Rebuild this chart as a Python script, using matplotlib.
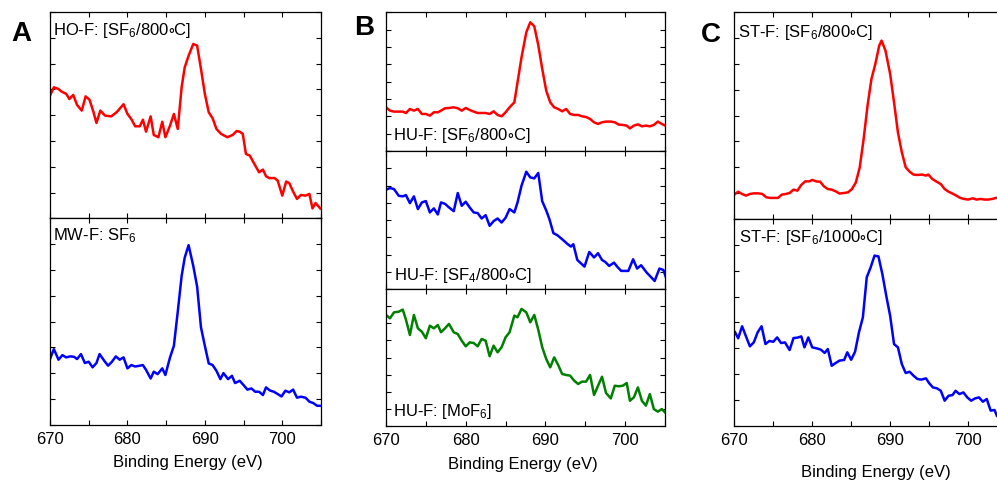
import matplotlib
matplotlib.use("Agg")
import matplotlib.pyplot as plt
from matplotlib.ticker import MultipleLocator

plt.rcParams['font.family'] = ['Liberation Sans', 'DejaVu Sans']
plt.rcParams['mathtext.default'] = 'regular'

# ---------------- data (binding energy in eV, intensity in a.u.) ----------------
a_top_x = [670.0, 670.5, 671.1, 671.5, 672.1, 672.5, 673.0, 673.5, 674.1, 674.6,
           675.1, 675.6, 676.0, 676.5, 677.1, 677.9, 678.6, 679.5, 680.0, 680.5,
           681.0, 681.6, 682.0, 682.4, 683.0, 683.4, 684.0, 684.5, 684.9, 685.5,
           686.0, 686.5, 687.0, 687.4, 687.9, 688.5, 689.0, 689.5, 690.0, 690.5,
           691.0, 691.5, 692.1, 692.9, 693.6, 694.1, 694.5, 694.9, 695.3, 695.8,
           696.4, 697.0, 697.5, 697.9, 698.3, 699.0, 699.4, 700.0, 700.5, 700.9,
           701.4, 701.9, 702.4, 703.0, 703.5, 703.9, 704.3, 704.9]
a_top_y = [59.5, 63.5, 62.7, 61.4, 60.3, 57.8, 59.8, 54.9, 52.2, 59.1,
           57.5, 51.7, 46.2, 52.2, 49.8, 49.4, 51.4, 55.3, 50.6, 48.1,
           44.6, 44.6, 47.8, 42.0, 49.4, 40.4, 39.3, 46.8, 39.3, 44.9,
           50.6, 43.3, 63.5, 73.2, 78.8, 84.5, 83.7, 72.4, 60.3, 51.4,
           48.5, 43.3, 40.9, 39.3, 40.4, 42.3, 42.0, 40.9, 31.2, 30.4,
           26.3, 22.3, 23.6, 20.4, 19.5, 19.5, 18.3, 11.0, 17.8, 17.1,
           12.9, 9.4, 11.3, 11.0, 11.8, 4.8, 7.4, 4.8]

a_bot_x = [670.0, 670.5, 671.1, 671.6, 672.1, 672.6, 673.1, 673.5, 674.0, 674.5,
           675.0, 675.5, 676.0, 676.4, 677.0, 677.5, 678.0, 678.5, 679.0, 679.5,
           680.0, 680.5, 681.0, 681.6, 682.0, 682.4, 683.0, 683.4, 683.9, 684.5,
           684.9, 685.5, 686.0, 686.5, 687.0, 687.4, 687.9, 688.5, 689.0, 689.5,
           690.0, 690.5, 691.0, 691.5, 692.0, 692.4, 693.0, 693.5, 693.9, 694.5,
           695.0, 695.5, 696.0, 696.5, 697.0, 697.5, 697.9, 698.4, 698.9, 699.4,
           699.9, 700.4, 700.9, 701.4, 701.9, 702.4, 703.0, 703.5, 704.0, 704.5,
           704.9]
a_bot_y = [31.9, 36.7, 31.6, 33.8, 32.7, 33.2, 33.0, 31.9, 34.3, 30.0,
           30.6, 27.9, 30.0, 34.3, 31.1, 28.7, 30.6, 33.2, 31.6, 32.7,
           27.4, 29.0, 28.3, 28.7, 29.0, 26.7, 22.5, 25.8, 24.6, 27.4,
           24.2, 32.7, 38.3, 54.8, 72.1, 81.0, 87.0, 77.0, 67.0, 47.2,
           38.3, 29.8, 29.0, 26.2, 22.2, 25.1, 22.2, 23.8, 20.3, 21.4,
           19.3, 17.1, 17.7, 16.1, 16.1, 14.5, 18.2, 16.7, 16.1, 15.0,
           13.8, 16.6, 15.8, 17.1, 13.2, 13.7, 13.2, 11.3, 10.6, 9.3,
           9.3]

b_x = [670.0, 670.5, 671.0, 671.6, 672.1, 672.5, 673.0, 673.5, 674.0, 674.5,
       675.0, 675.5, 676.0, 676.5, 676.9, 677.4, 677.9, 678.5, 679.0, 679.5,
       680.0, 680.5, 681.0, 681.5, 682.0, 682.5, 683.0, 683.5, 684.0, 684.5,
       685.0, 685.5, 686.1, 686.5, 687.0, 687.6, 688.1, 688.6, 689.1, 689.6,
       690.1, 690.6, 691.1, 691.6, 692.1, 692.6, 693.1, 693.6, 694.1, 694.6,
       695.1, 695.6, 696.1, 696.6, 697.1, 697.6, 698.2, 698.7, 699.2, 699.7,
       700.2, 700.6, 701.1, 701.6, 702.1, 702.6, 703.1, 703.6, 704.1, 704.6,
       705.2]
b_top_y = [31.5, 29.1, 28.4, 28.4, 28.4, 27.4, 30.3, 29.1, 30.3, 26.7,
           26.7, 25.5, 27.9, 27.9, 29.1, 30.8, 31.0, 31.5, 30.8, 29.1,
           31.0, 29.6, 28.4, 27.4, 27.4, 27.4, 26.7, 28.6, 26.0, 25.0,
           27.9, 31.5, 35.1, 49.5, 67.5, 85.6, 92.8, 89.9, 76.4, 59.1,
           43.5, 35.1, 31.5, 30.3, 28.6, 30.3, 26.7, 26.0, 26.0, 25.0,
           24.5, 23.1, 20.7, 19.5, 20.7, 21.2, 21.2, 20.7, 19.0, 18.8,
           18.3, 16.3, 18.3, 19.2, 17.8, 18.3, 17.8, 18.8, 21.2, 19.5,
           17.8]

b_mid_x = [670.0, 670.5, 671.0, 671.6, 672.1, 672.5, 673.0, 673.5, 674.0, 674.5,
           675.0, 675.5, 676.0, 676.5, 676.9, 677.4, 677.9, 678.5, 679.0, 679.5,
           680.0, 680.5, 681.0, 681.5, 682.0, 682.5, 683.0, 683.5, 684.0, 684.5,
           685.0, 685.5, 686.1, 686.5, 687.0, 687.6, 688.1, 688.6, 689.1, 689.6,
           690.1, 690.5, 691.0, 691.5, 692.2, 692.8, 693.2, 693.5, 694.0, 694.9,
           695.5, 696.1, 696.6, 697.1, 697.5, 698.0, 698.6, 699.0, 699.5, 700.4,
           701.0, 701.5, 702.0, 702.7, 703.3, 703.7, 704.3, 704.8, 705.2]
b_mid_y = [72.0, 73.2, 72.5, 67.6, 67.2, 68.1, 62.3, 67.2, 58.0, 62.8,
           63.8, 55.6, 58.5, 54.1, 62.8, 61.8, 59.2, 56.5, 69.6, 60.4,
           63.3, 59.2, 55.6, 55.1, 51.2, 53.6, 45.9, 49.3, 51.2, 48.3,
           51.7, 58.0, 55.6, 62.8, 74.9, 85.0, 80.9, 80.2, 84.1, 63.6,
           57.0, 50.7, 40.6, 39.1, 35.7, 32.6, 30.9, 32.6, 21.2, 16.4,
           27.0, 23.0, 26.1, 21.2, 19.8, 16.9, 19.3, 16.4, 13.3, 13.3,
           21.7, 15.0, 17.4, 12.1, 8.5, 6.0, 15.0, 14.0, 7.2]

b_bot_y = [81.2, 78.7, 83.1, 83.6, 85.1, 77.8, 66.5, 81.2, 71.4, 68.9,
           64.1, 73.3, 71.4, 73.8, 68.5, 71.4, 74.6, 68.5, 67.2, 62.3,
           58.2, 61.1, 60.6, 58.2, 63.6, 62.3, 50.9, 58.7, 53.8, 57.5,
           64.8, 68.5, 80.7, 79.5, 85.6, 83.1, 75.8, 81.2, 70.4, 57.5,
           48.9, 42.8, 50.1, 44.5, 37.9, 37.2, 36.7, 33.0, 30.6, 32.3,
           32.3, 37.2, 22.5, 29.3, 35.9, 24.0, 20.0, 29.3, 28.9, 29.3,
           31.3, 18.3, 20.8, 28.1, 18.3, 14.7, 23.2, 12.2, 10.3, 12.2,
           8.6]

c_top_x = [670.1, 670.5, 671.0, 671.5, 672.0, 672.5, 673.1, 673.6, 674.1, 674.6,
           675.1, 675.6, 676.1, 676.6, 677.1, 677.6, 678.1, 678.6, 679.1, 679.6,
           680.0, 680.6, 681.0, 681.5, 682.0, 682.5, 683.0, 683.5, 684.1, 684.6,
           685.1, 685.6, 686.1, 686.6, 687.1, 687.6, 688.1, 688.6, 688.9, 689.4,
           690.0, 690.5, 691.0, 691.5, 692.0, 692.5, 693.0, 693.5, 694.1, 694.6,
           694.9, 695.4, 695.9, 696.5, 697.0, 697.5, 698.0, 698.5, 699.0, 699.5,
           700.0, 700.6, 701.1, 701.6, 702.1, 702.6, 703.1, 703.7]
c_top_y = [12.1, 13.2, 12.1, 11.3, 12.1, 12.4, 12.4, 12.1, 10.5, 10.2,
           10.2, 10.2, 11.8, 12.1, 12.6, 14.2, 13.7, 16.5, 18.2, 18.2,
           18.9, 18.1, 18.1, 15.8, 14.5, 14.2, 13.4, 12.3, 12.6, 12.9,
           14.5, 17.7, 25.0, 38.7, 54.8, 67.7, 75.0, 83.9, 86.3, 81.5,
           70.2, 56.5, 41.9, 32.3, 25.0, 22.9, 21.5, 21.3, 21.5, 21.0,
           21.5, 19.4, 18.2, 16.9, 14.5, 13.2, 12.3, 11.3, 10.2, 9.7,
           9.4, 10.0, 9.4, 9.7, 9.4, 9.4, 9.7, 10.3]

c_bot_x = [670.1, 670.5, 671.0, 671.5, 672.0, 672.5, 673.0, 673.5, 674.0, 674.5,
           675.0, 675.5, 676.0, 676.5, 677.1, 677.6, 678.1, 678.6, 679.0, 679.5,
           680.0, 680.6, 681.1, 681.6, 682.0, 682.5, 683.0, 683.5, 684.1, 684.5,
           685.0, 685.5, 686.0, 686.5, 687.0, 687.5, 688.0, 688.5, 689.0, 689.5,
           690.0, 690.5, 691.0, 691.5, 692.0, 692.5, 693.0, 693.5, 694.0, 694.6,
           695.0, 695.5, 696.0, 696.5, 697.0, 697.5, 698.0, 698.4, 698.9, 699.4,
           699.9, 700.4, 700.9, 701.4, 701.9, 702.4, 702.9, 703.4, 703.7]
c_bot_y = [45.2, 42.3, 48.1, 43.2, 38.4, 40.3, 45.2, 48.1, 39.5, 41.0,
           40.6, 42.7, 40.0, 40.3, 36.6, 42.4, 42.6, 43.2, 37.9, 42.7,
           37.9, 37.4, 36.8, 35.2, 37.1, 29.0, 30.3, 31.5, 31.8, 35.5,
           31.9, 35.8, 45.2, 52.4, 71.8, 76.6, 82.3, 81.9, 73.4, 62.9,
           53.2, 39.5, 37.9, 29.8, 25.5, 26.1, 24.2, 22.6, 22.3, 22.9,
           20.6, 18.5, 18.1, 16.9, 12.1, 14.5, 14.8, 16.9, 15.3, 16.1,
           13.7, 12.1, 13.2, 13.7, 11.6, 12.9, 7.3, 7.6, 4.8]

x_ticks = [670, 680, 690, 700]
x_label = "Binding Energy (eV)"
DEG = "${\\circ}$"

RED, BLUE, GREEN = "#ff0000", "#0000ff", "#008000"

W, H = 997, 481
fig = plt.figure(figsize=(W / 100, H / 100), dpi=100)


def px_axes(x0, x1, y0, y1):
    return fig.add_axes([x0 / W, 1 - y1 / H, (x1 - x0) / W, (y1 - y0) / H])


def style(ax, labels):
    ax.set_xlim(670, 705)
    ax.set_ylim(0, 100)
    ax.set_xticks(x_ticks)
    ax.xaxis.set_minor_locator(MultipleLocator(5))
    ax.yaxis.set_major_locator(MultipleLocator(12.5))
    ax.tick_params(which='both', direction='in', top=True, right=True,
                   length=3.5, width=0.8, labelsize=12, pad=4.5)
    ax.set_yticklabels([])
    if not labels:
        ax.set_xticklabels([])
    for s in ax.spines.values():
        s.set_linewidth(0.9)


LW = 1.8
# Panel A
axA1 = px_axes(50, 321, 13, 219.3)
axA2 = px_axes(50, 321, 219.3, 426)
axA1.plot(a_top_x, a_top_y, color=RED, lw=LW)
axA2.plot(a_bot_x, a_bot_y, color=BLUE, lw=LW)
style(axA1, False)
style(axA2, True)
axA1.text(0.010, 0.963, "HO-F: [SF$_6$/800" + DEG + "C]", transform=axA1.transAxes,
          ha='left', va='top', fontsize=12)
axA2.text(0.012, 0.966, "MW-F: SF$_6$", transform=axA2.transAxes,
          ha='left', va='top', fontsize=12)

# Panel B
axB1 = px_axes(386, 665, 13.3, 152)
axB2 = px_axes(386, 665, 152, 290.3)
axB3 = px_axes(386, 665, 290.3, 426.7)
axB1.plot(b_x, b_top_y, color=RED, lw=LW)
axB2.plot(b_mid_x, b_mid_y, color=BLUE, lw=LW)
axB3.plot(b_x, b_bot_y, color=GREEN, lw=LW)
style(axB1, False)
style(axB2, False)
style(axB3, True)
axB1.text(0.024, 0.0865, "HU-F: [SF$_6$/800" + DEG + "C]", transform=axB1.transAxes,
          ha='left', va='baseline', fontsize=12)
axB2.text(0.027, 0.074, "HU-F: [SF$_4$/800" + DEG + "C]", transform=axB2.transAxes,
          ha='left', va='baseline', fontsize=12)
axB3.text(0.026, 0.078, "HU-F: [MoF$_6$]", transform=axB3.transAxes,
          ha='left', va='baseline', fontsize=12)

# Panel C (extends past the right edge of the figure)
axC1 = px_axes(734.3, 1007, 13.3, 220)
axC2 = px_axes(734.3, 1007, 220, 426.7)
axC1.plot(c_top_x, c_top_y, color=RED, lw=LW)
axC2.plot(c_bot_x, c_bot_y, color=BLUE, lw=LW)
style(axC1, False)
style(axC2, True)
axC1.text(0.014, 0.955, "ST-F: [SF$_6$/800" + DEG + "C]", transform=axC1.transAxes,
          ha='left', va='top', fontsize=12)
axC2.text(0.018, 0.96, "ST-F: [SF$_6$/1000" + DEG + "C]", transform=axC2.transAxes,
          ha='left', va='top', fontsize=12)

# x labels
fig.text(187.5 / W, 1 - 463 / H, x_label, ha='center', va='center', fontsize=12)
fig.text(523 / W, 1 - 465 / H, x_label, ha='center', va='center', fontsize=12)
fig.text(876 / W, 1 - 472.5 / H, x_label, ha='center', va='center', fontsize=12)

# panel letters
for letter, xp, yb in [("A", 21, 40.7), ("B", 364, 35), ("C", 711, 41.7)]:
    fig.text(xp / W, 1 - yb / H, letter, ha='center', va='baseline',
             fontsize=20, fontweight='bold')

fig.savefig("out.png", dpi=100)
